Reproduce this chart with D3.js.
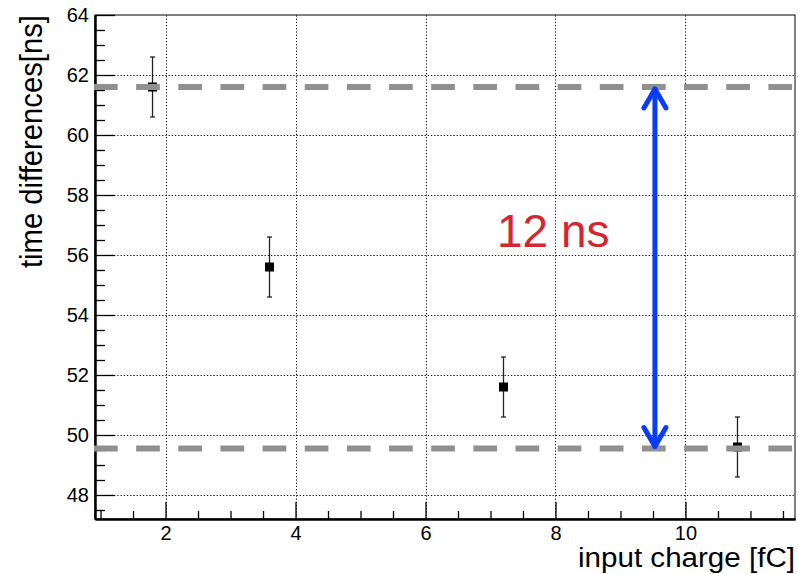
<!DOCTYPE html>
<html>
<head>
<meta charset="utf-8">
<script src="https://cdn.jsdelivr.net/npm/d3@7"></script>
<style>
  body { margin: 0; background: #fff; }
  svg { display: block; font-family: "Liberation Sans", Arial, Helvetica, sans-serif; }
</style>
</head>
<body>
<div id="result"></div>
<script>
// measured points (input charge [fC], time difference [ns], error)
var charge = [1.8, 3.6, 7.2, 10.8];
var timeDiff = [61.6, 55.6, 51.6, 49.6];
var timeErr = [1, 1, 1, 1];

// horizontal reference lines and the arrow between them
var levels = [61.6, 49.55];
var arrowX = 9.53;
var annotation = "12 ns";

var xTicks = [2, 4, 6, 8, 10];
var yTicks = [48, 50, 52, 54, 56, 58, 60, 62, 64];

var width = 798, height = 574;
var margin = {top: 15, right: 3, bottom: 55, left: 95};

var svg = d3.select("#result").append("svg")
    .attr("width", width)
    .attr("height", height);

svg.append("rect").attr("width", width).attr("height", height).attr("fill", "#fff");

var x = d3.scaleLinear()
    .domain([0.915, 11.685])
    .range([margin.left, width - margin.right]);

var y = d3.scaleLinear()
    .domain([47.2, 64])
    .range([height - margin.bottom, margin.top]);

var x0 = x.range()[0], x1 = x.range()[1];
var y0 = y.range()[0], y1 = y.range()[1];

// grid
var grid = svg.append("g")
    .attr("stroke", "#000")
    .attr("stroke-width", 1)
    .attr("stroke-dasharray", "1.2,2");

grid.selectAll(".gx").data(xTicks).enter().append("line")
    .attr("x1", function(d) { return Math.round(x(d)) + 0.5; })
    .attr("x2", function(d) { return Math.round(x(d)) + 0.5; })
    .attr("y1", y0).attr("y2", y1);

grid.selectAll(".gy").data(yTicks.filter(function(d) { return d < 64; })).enter().append("line")
    .attr("y1", function(d) { return Math.round(y(d)) + 0.5; })
    .attr("y2", function(d) { return Math.round(y(d)) + 0.5; })
    .attr("x1", x0).attr("x2", x1);

// frame
svg.append("rect")
    .attr("x", x0).attr("y", y1)
    .attr("width", x1 - x0).attr("height", y0 - y1)
    .attr("fill", "none")
    .attr("stroke", "#000")
    .attr("stroke-width", 1);

// axes (ROOT style: ticks inside)
var xMinor = d3.range(1, 11.51, 0.5).filter(function(d) { return xTicks.indexOf(d) < 0; });
var yMinor = d3.range(47.5, 63.51, 0.5).filter(function(d) { return yTicks.indexOf(d) < 0; });

var xAxis = d3.axisBottom(x).tickValues(xTicks).tickSize(-17).tickSizeOuter(0).tickPadding(7)
    .tickFormat(d3.format("d"));
var xAxisMinor = d3.axisBottom(x).tickValues(xMinor).tickSize(-8).tickSizeOuter(0).tickFormat("");
var yAxis = d3.axisLeft(y).tickValues(yTicks).tickSize(-20).tickSizeOuter(0).tickPadding(6)
    .tickFormat(d3.format("d"));
var yAxisMinor = d3.axisLeft(y).tickValues(yMinor).tickSize(-10).tickSizeOuter(0).tickFormat("");

function styleAxis(g) {
  g.attr("font-size", 20).attr("font-family", "Liberation Sans, Arial, sans-serif");
  g.select(".domain").attr("stroke", "#000").attr("stroke-width", 2);
  g.selectAll(".tick line").attr("stroke", "#000").attr("stroke-width", 1.3);
  g.selectAll(".tick text").attr("fill", "#000");
}

svg.append("g").attr("transform", "translate(0," + y0 + ")").call(xAxisMinor).call(styleAxis);
svg.append("g").attr("transform", "translate(0," + y0 + ")").call(xAxis).call(styleAxis);
svg.append("g").attr("transform", "translate(" + x0 + ",0)").call(yAxisMinor).call(styleAxis);
svg.append("g").attr("transform", "translate(" + x0 + ",0)").call(yAxis).call(styleAxis);

// axis titles
svg.append("text")
    .attr("x", x1)
    .attr("y", 567)
    .attr("text-anchor", "end")
    .attr("textLength", 217)
    .attr("lengthAdjust", "spacingAndGlyphs")
    .style("font-size", "27px")
    .text("input charge [fC]");

svg.append("text")
    .attr("transform", "translate(42," + y1 + ") rotate(-90)")
    .attr("text-anchor", "end")
    .attr("textLength", 253)
    .attr("lengthAdjust", "spacingAndGlyphs")
    .style("font-size", "31px")
    .text("time differences[ns]");

// data points with error bars
var pts = charge.map(function(c, i) { return {x: c, y: timeDiff[i], e: timeErr[i]}; });

var pg = svg.append("g").selectAll("g").data(pts).enter().append("g");
pg.append("line")
    .attr("x1", function(d) { return x(d.x); }).attr("x2", function(d) { return x(d.x); })
    .attr("y1", function(d) { return y(d.y + d.e); }).attr("y2", function(d) { return y(d.y - d.e); })
    .attr("stroke", "#222").attr("stroke-width", 1.3);
pg.selectAll(".cap").data(function(d) { return [d.y + d.e, d.y - d.e].map(function(v) { return {x: d.x, v: v}; }); })
  .enter().append("line")
    .attr("x1", function(d) { return x(d.x) - 2.5; }).attr("x2", function(d) { return x(d.x) + 2.5; })
    .attr("y1", function(d) { return y(d.v); }).attr("y2", function(d) { return y(d.v); })
    .attr("stroke", "#222").attr("stroke-width", 1.3);
pg.append("rect")
    .attr("x", function(d) { return x(d.x) - 4.5; })
    .attr("y", function(d) { return y(d.y) - 4.5; })
    .attr("width", 9).attr("height", 9)
    .attr("fill", "#000");

// dashed reference levels
svg.append("g").selectAll("line").data(levels).enter().append("line")
    .attr("x1", x0 - 1).attr("x2", x1)
    .attr("y1", function(d) { return y(d); }).attr("y2", function(d) { return y(d); })
    .attr("stroke", "#909090")
    .attr("stroke-width", 6)
    .attr("stroke-dasharray", "23.7,18.45");

// double arrow
var ax = x(arrowX), aTop = y(levels[0]), aBot = y(levels[1]);
var arrow = svg.append("g")
    .attr("stroke", "#0a3cf7")
    .attr("stroke-width", 5)
    .attr("stroke-linecap", "round")
    .attr("stroke-linejoin", "round")
    .attr("fill", "none");
arrow.append("line").attr("x1", ax).attr("x2", ax).attr("y1", aTop + 2).attr("y2", aBot - 2);
arrow.append("path").attr("d", d3.line()([[ax - 11, aTop + 21], [ax, aTop + 2], [ax + 11, aTop + 21]]));
arrow.append("path").attr("d", d3.line()([[ax - 11, aBot - 21], [ax, aBot - 2], [ax + 11, aBot - 21]]));

svg.append("text")
    .attr("x", 497)
    .attr("y", 247)
    .attr("fill", "#d4262e")
    .style("font-size", "46px")
    .text(annotation);
</script>
</body>
</html>
